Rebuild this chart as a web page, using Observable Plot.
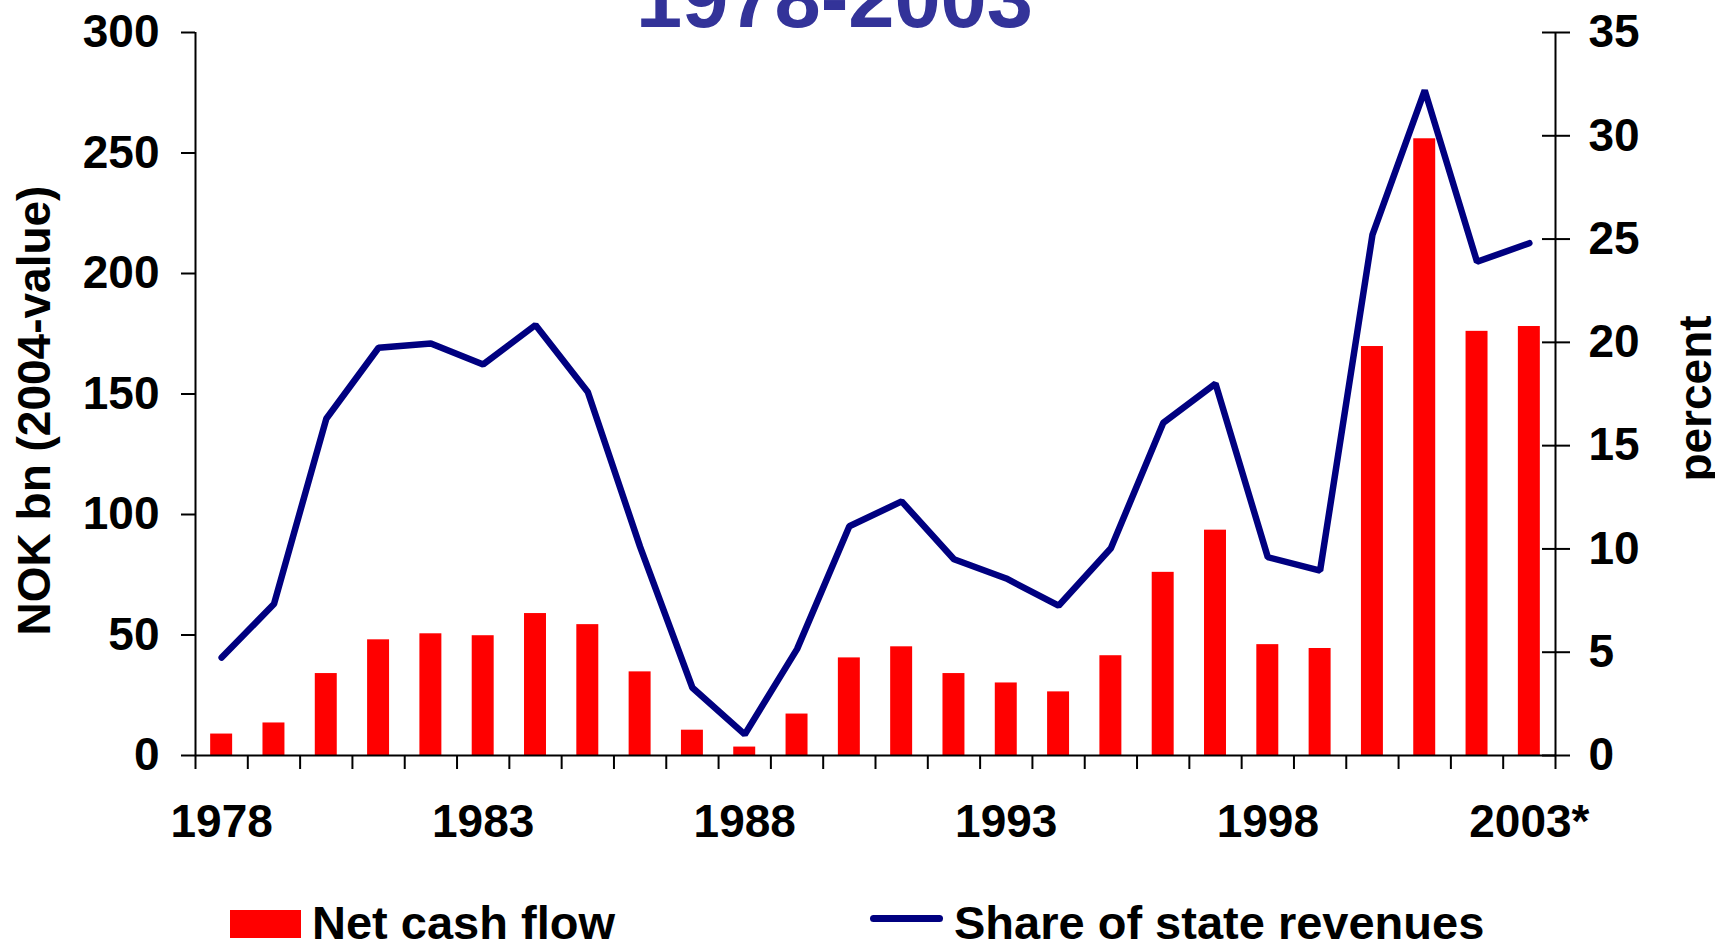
<!DOCTYPE html>
<html>
<head>
<meta charset="utf-8">
<script src="https://cdn.jsdelivr.net/npm/d3@7"></script>
<script src="https://cdn.jsdelivr.net/npm/@observablehq/plot@0.6"></script>
<style>
  html, body { margin: 0; padding: 0; background: #fff; overflow: hidden; }
  #wrap { position: relative; width: 1715px; height: 941px; overflow: hidden; font-family: "Liberation Sans", Arial, sans-serif; font-weight: bold; }
  #title { position: absolute; left: 636px; top: -43px; font-size: 83px; line-height: 83px; color: #333399; white-space: nowrap; z-index: 2; }
  #chart { position: absolute; left: 0; top: 0; z-index: 1; }
  .leg { position: absolute; top: 899px; font-size: 47px; line-height: 47px; color: #000; white-space: nowrap; z-index: 2; }
  .sw-bar { position: absolute; left: 230px; top: 910px; width: 71px; height: 28px; background: #ff0000; z-index: 2; }
  .sw-line { position: absolute; left: 870px; top: 915px; width: 73px; height: 7px; border-radius: 3.5px; background: #000080; z-index: 2; }
</style>
</head>
<body>
<div id="wrap">
  <div id="chart"></div>
  <div id="title">1978-2003</div>
  <div class="sw-bar"></div>
  <div class="leg" style="left:312px">Net cash flow</div>
  <div class="sw-line"></div>
  <div class="leg" style="left:954px">Share of state revenues</div>
</div>
<script>
// ---- data ----
const years = [1978, 1979, 1980, 1981, 1982, 1983, 1984, 1985, 1986, 1987, 1988, 1989, 1990,
               1991, 1992, 1993, 1994, 1995, 1996, 1997, 1998, 1999, 2000, 2001, 2002, 2003];
// Net cash flow, NOK bn (2004-value)
const netCashFlow = [8.9, 13.5, 34.0, 48.0, 50.5, 49.7, 58.9, 54.3, 34.7, 10.5, 3.5, 17.2, 40.5,
                     45.1, 34.0, 30.1, 26.4, 41.4, 76.0, 93.5, 46.0, 44.4, 169.7, 255.9, 176.0, 178.0];
// Share of state revenues, percent
const shareOfRevenues = [4.74, 7.33, 16.3, 19.74, 19.95, 18.93, 20.84, 17.6, 10.1, 3.28, 1.02, 5.15, 11.1,
                         12.3, 9.5, 8.57, 7.25, 10.03, 16.1, 18.0, 9.6, 8.95, 25.2, 32.2, 23.9, 24.8];
const leftTicks = [0, 50, 100, 150, 200, 250, 300];
const rightTicks = [0, 5, 10, 15, 20, 25, 30, 35];
const labelYears = [1978, 1983, 1988, 1993, 1998, 2003];
const labelText = {2003: "2003*"};

// ---- derived table ----
const data = years.map((year, i) => ({year, cash: netCashFlow[i], share: shareOfRevenues[i]}));
const k = 300 / 35; // right (percent) axis mapped onto left axis
const boundaries = [...years.map(y => y - 0.5), years[years.length - 1] + 0.5];
const halfBar = 0.21;

const fontSize = 46;
const chart = Plot.plot({
  width: 1715,
  height: 860,
  marginTop: 32,
  marginBottom: 105,
  marginLeft: 195,
  marginRight: 160,
  style: {fontFamily: "'Liberation Sans', Arial, sans-serif", fontWeight: "bold", fontSize: fontSize + "px", color: "#000", background: "#fff"},
  x: {domain: [1977.5, 2003.5], axis: null},
  y: {domain: [0, 300], axis: null},
  marks: [
    Plot.rectY(data, {x1: d => d.year - halfBar, x2: d => d.year + halfBar, y: "cash", fill: "#ff0000"}),
    Plot.line(data, {x: "year", y: d => d.share * k, stroke: "#000080", strokeWidth: 6.5, strokeLinejoin: "miter", strokeLinecap: "round"}),
    // axis lines
    Plot.ruleX([1977.5], {stroke: "#000", strokeWidth: 2}),
    Plot.ruleX([2003.5], {stroke: "#000", strokeWidth: 2}),
    Plot.ruleY([0], {stroke: "#000", strokeWidth: 2}),
    // left axis
    Plot.axisY({anchor: "left", ticks: leftTicks, tickSize: 14, tickPadding: 22, strokeWidth: 2,
                fontSize, fontWeight: "bold", label: null, tickFormat: d => String(d)}),
    // right axis (ticks cross the axis line)
    Plot.axisY({anchor: "right", ticks: rightTicks.map(p => p * k), tickSize: 28, dx: -14, tickPadding: 19, strokeWidth: 2,
                fontSize, fontWeight: "bold", label: null, tickFormat: v => String(Math.round(v / k))}),
    // x tick marks at category boundaries
    Plot.axisX({ticks: boundaries, tickSize: 14, strokeWidth: 2, tickFormat: () => "", label: null}),
    // x labels every five years
    Plot.axisX({ticks: labelYears, tickSize: 0, tickPadding: 49, fontSize, fontWeight: "bold", label: null,
                tickFormat: v => labelText[v] ?? String(v)}),
    // axis titles
    Plot.text(["NOK bn (2004-value)"], {frameAnchor: "left", textAnchor: "middle", text: d => d, rotate: -90, dx: -160, dy: 16.5,
               fontSize, fontWeight: "bold", fill: "#000"}),
    Plot.text(["percent"], {frameAnchor: "right", textAnchor: "middle", text: d => d, rotate: -90, dx: 141, dy: 4.5,
               fontSize, fontWeight: "bold", fill: "#000"})
  ]
});
document.getElementById("chart").appendChild(chart);
</script>
</body>
</html>
